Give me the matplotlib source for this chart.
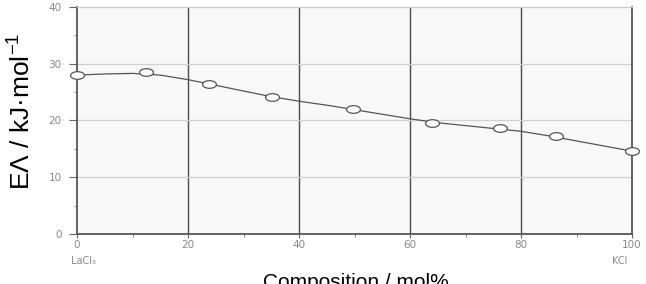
import numpy as np
import matplotlib
matplotlib.use("Agg")
import matplotlib.pyplot as plt
from matplotlib.path import Path
from matplotlib.transforms import Affine2D

# measured points (composition mol% KCl, activation energy kJ/mol)
comp = [0, 12.4, 23.8, 35.1, 49.8, 63.9, 76.3, 86.3, 100]
energy = [28.0, 28.5, 26.5, 24.1, 22.0, 19.6, 18.6, 17.2, 14.7]

# smooth guide line
curve_x = [0, 5, 10, 15, 20, 25, 30, 35, 40, 45, 50, 55, 60, 65, 70, 75, 80, 85, 90, 95, 100]
curve_y = [28.0, 28.2, 28.3, 28.0, 27.2, 26.2, 25.2, 24.2, 23.4, 22.7, 21.9, 21.1,
           20.3, 19.6, 19.1, 18.6, 18.1, 17.3, 16.4, 15.5, 14.6]

xticks = [0, 20, 40, 60, 80, 100]
yticks = [0, 10, 20, 30, 40]

fig = plt.figure(figsize=(6.46, 2.84), dpi=100)
ax = fig.add_axes([77 / 646, 50 / 284, 555 / 646, 227 / 284])
ax.set_facecolor("#f8f8f8")

ax.set_xlim(0, 100)
ax.set_ylim(0, 40)
ax.set_xticks(xticks)
ax.set_yticks(yticks)
ax.set_xticks(np.arange(10, 100, 20), minor=True)
ax.set_yticks(np.arange(5, 40, 10), minor=True)

# grid: dark verticals, faint horizontals
for v in xticks[1:-1]:
    ax.axvline(v, color="#4a4a4a", lw=1.0, zorder=1)
for h in yticks[1:-1]:
    ax.axhline(h, color="#d0d0d0", lw=0.9, zorder=1)

for s in ["left", "right", "bottom"]:
    ax.spines[s].set_color("#555555")
    ax.spines[s].set_linewidth(1.3)
ax.spines["top"].set_color("#cccccc")
ax.spines["top"].set_linewidth(1.0)

ax.tick_params(axis="both", which="major", direction="out", width=0.8,
               color="#666666", labelcolor="#888888", labelsize=7.5)
ax.tick_params(axis="y", which="major", length=6, pad=5)
ax.tick_params(axis="x", which="major", length=3, pad=1.5)
ax.tick_params(axis="both", which="minor", direction="out", length=2.5, width=0.7,
               color="#888888")

ax.plot(curve_x, curve_y, color="#555555", lw=0.9, zorder=3, clip_on=False)

ellipse = Path.unit_circle().transformed(Affine2D().scale(1.0, 0.55))
ax.plot(comp, energy, linestyle="none", marker=ellipse, markersize=10,
        markerfacecolor="white", markeredgecolor="#555555", markeredgewidth=0.9,
        zorder=4, clip_on=False)

ax.text(0.011, -0.12, "LaCl₃", transform=ax.transAxes, fontsize=7, color="#888888",
        ha="center", va="center")
ax.text(0.978, -0.12, "KCl", transform=ax.transAxes, fontsize=7, color="#888888",
        ha="center", va="center")

fig.text(21 / 646, 1 - 111 / 284, r"EΛ / kJ·mol$^{\mathregular{-1}}$", rotation=90,
         ha="center", va="center", fontsize=19,
         family=["Liberation Sans", "DejaVu Sans"], color="black")
fig.text(356 / 646, 1 - 282 / 284, "Composition / mol%", ha="center", va="center",
         fontsize=15, family=["Liberation Sans", "DejaVu Sans"], color="black")

fig.savefig("out.png", dpi=100)
